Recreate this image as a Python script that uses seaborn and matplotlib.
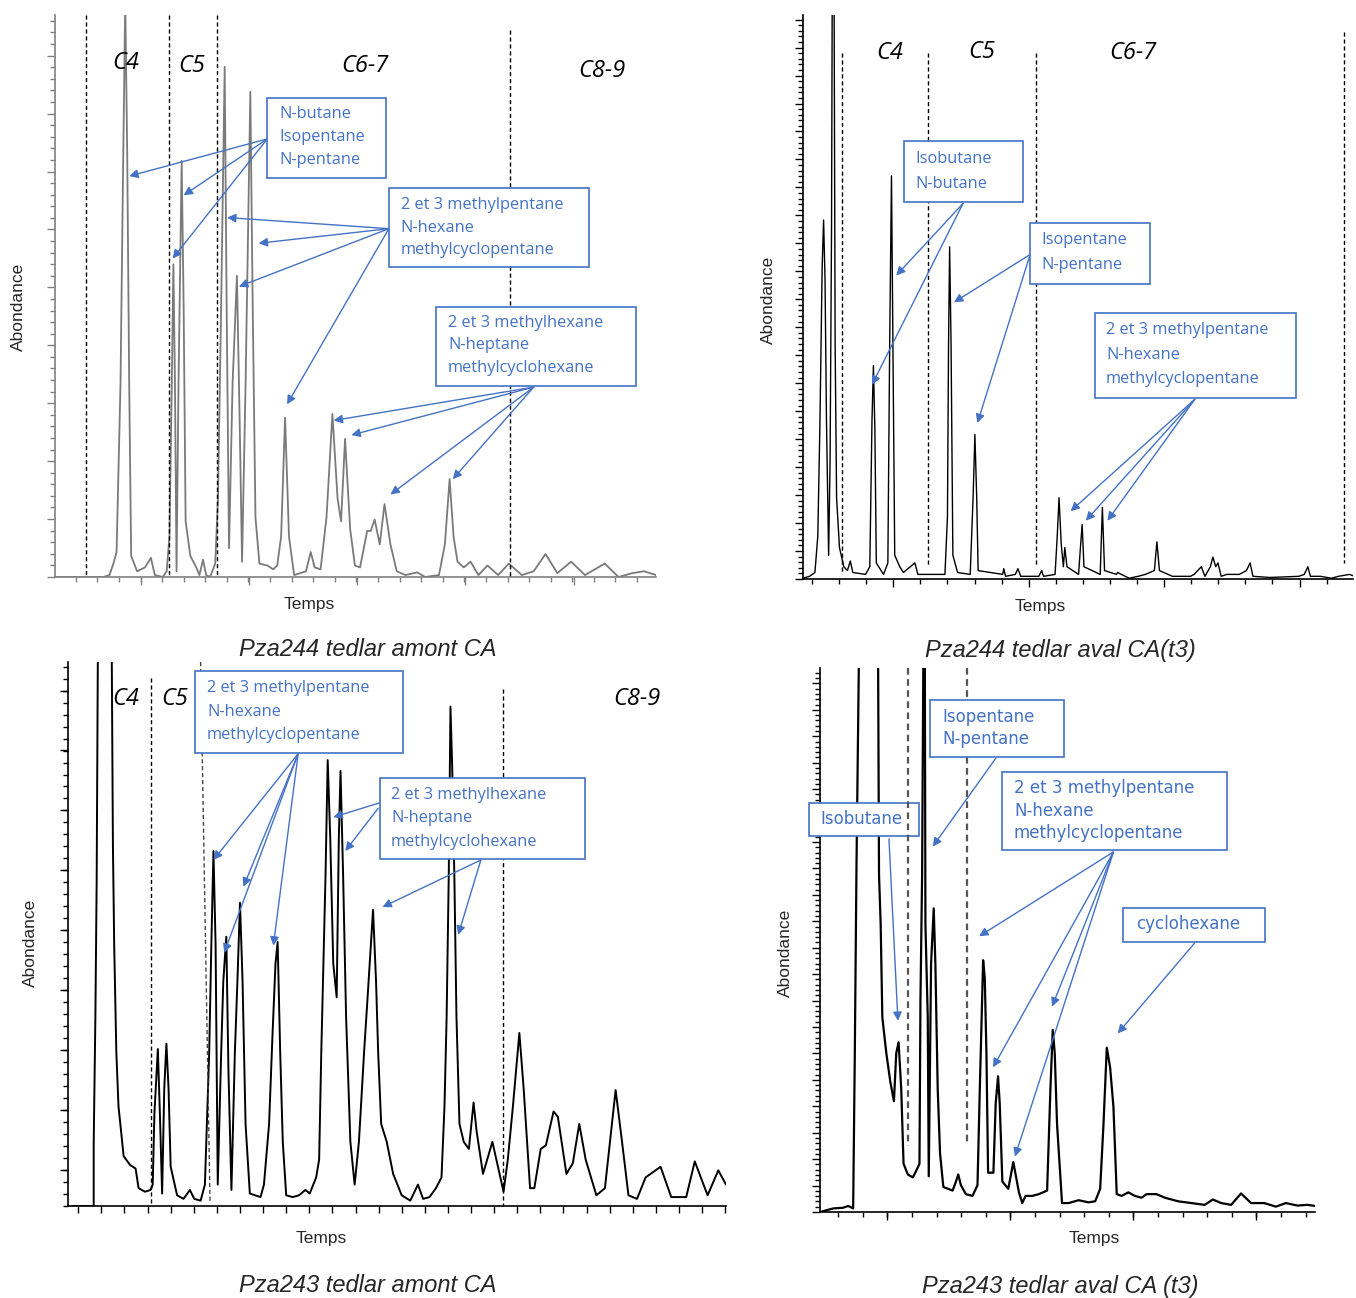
import matplotlib
matplotlib.use("Agg")
import matplotlib.pyplot as plt
from matplotlib.patches import Rectangle
from matplotlib.ticker import FixedLocator
import numpy as np
import pandas as pd
import seaborn as sns

# chromatogram traces (arbitrary units)
tl_time = [0, 123, 138, 148, 156, 166, 173, 178, 183, 188, 193, 208, 228, 243, 253, 273, 283, 290, 296, 300,
           304, 308, 313, 321, 326, 331, 343, 358, 366, 375, 383, 393, 406, 413, 421, 430, 435, 441, 450, 461,
           468, 474, 483, 495, 501, 508, 518, 538, 553, 563, 573, 583, 593, 606, 636, 648, 658, 673, 688, 703,
           716, 725, 735, 748, 760, 773, 791, 800, 810, 823, 835, 850, 866, 888, 918, 938, 973, 988, 1000, 1010,
           1020, 1036, 1053, 1073, 1096, 1123, 1150, 1183, 1213, 1243, 1273, 1308, 1343, 1393, 1428, 1463, 1493, 1523]
tl_abund = [0, 0, 5, 35, 65, 505, 1105, 1500, 1105, 505, 55, 15, 25, 50, 5, 0, 15, 105, 505, 815,
            505, 15, 505, 1085, 705, 145, 55, 25, 5, 45, 5, 0, 35, 205, 705, 1330, 705, 75, 505, 785,
            405, 40, 505, 1265, 705, 155, 35, 30, 20, 30, 105, 415, 105, 5, 15, 65, 25, 20, 155, 425,
            205, 145, 360, 125, 30, 25, 120, 120, 150, 85, 190, 85, 15, 5, 12, 0, 5, 85, 255, 105,
            40, 25, 40, 5, 30, 5, 35, 5, 15, 60, 10, 40, 5, 35, 0, 10, 15, 5]

tr_time = [0, 18, 33, 41, 47, 53, 57, 61, 65, 71, 75, 79, 81, 86, 89, 93, 101, 113, 123, 131,
           138, 173, 185, 191, 195, 199, 203, 223, 235, 240, 245, 249, 254, 268, 278, 310, 318, 393, 400, 403,
           406, 410, 415, 428, 463, 471, 476, 481, 485, 553, 556, 561, 588, 595, 603, 653, 661, 666, 698, 704,
           709, 715, 721, 725, 731, 763, 769, 773, 778, 823, 829, 835, 868, 871, 903, 928, 948, 973, 980, 987,
           1023, 1073, 1083, 1103, 1113, 1128, 1135, 1143, 1149, 1158, 1173, 1208, 1228, 1238, 1246, 1293, 1373, 1388, 1398, 1405,
           1433, 1463, 1483, 1513, 1528]
tr_abund = [2, 7, 17, 112, 412, 812, 937, 782, 412, 62, 312, 912, 1550, 1550, 612, 212, 82, 32, 22, 47,
            17, 12, 32, 412, 557, 392, 42, 12, 42, 612, 1052, 612, 62, 32, 17, 42, 12, 12, 162, 612,
            867, 612, 62, 17, 12, 212, 377, 212, 22, 12, 27, 7, 12, 27, 7, 7, 22, 7, 12, 112,
            212, 92, 32, 82, 32, 12, 92, 142, 32, 12, 187, 22, 12, 17, 2, 7, 12, 22, 97, 22,
            7, 7, 12, 32, 7, 32, 57, 32, 42, 7, 12, 12, 22, 42, 7, 4, 7, 12, 32, 7,
            7, 2, 7, 12, 7]

bl_time = [10, 60, 60, 64, 67, 70, 102, 105, 108, 113, 118, 130, 145, 158, 165, 180, 193, 198, 202, 210,
           215, 220, 225, 230, 235, 240, 255, 270, 285, 295, 310, 320, 330, 335, 340, 345, 350, 358, 363, 370,
           375, 382, 390, 396, 402, 408, 415, 425, 450, 458, 470, 478, 485, 490, 496, 502, 510, 525, 540, 555,
           565, 580, 587, 592, 598, 602, 607, 613, 620, 628, 633, 637, 643, 650, 660, 670, 680, 692, 700, 713,
           720, 725, 732, 745, 760, 780, 800, 818, 830, 845, 860, 873, 880, 885, 890, 894, 898, 903, 908, 915,
           925, 937, 948, 955, 970, 992, 1005, 1018, 1028, 1040, 1055, 1065, 1080, 1090, 1105, 1117, 1135, 1145, 1165, 1180,
           1195, 1210, 1235, 1255, 1280, 1295, 1310, 1330, 1350, 1385, 1410, 1445, 1465, 1495, 1520, 1538]
bl_abund = [0, 0, 170, 530, 910, 1600, 1600, 1010, 730, 430, 280, 140, 115, 105, 50, 40, 45, 60, 260, 440,
            250, 35, 330, 455, 330, 110, 30, 20, 45, 20, 15, 60, 430, 730, 995, 730, 60, 430, 630, 755,
            380, 45, 430, 630, 850, 630, 230, 35, 25, 60, 230, 480, 680, 740, 430, 180, 30, 25, 30, 45,
            35, 80, 130, 430, 730, 930, 1250, 1030, 680, 585, 1030, 1220, 930, 530, 180, 60, 180, 430, 580, 830,
            630, 430, 230, 180, 90, 30, 15, 60, 20, 25, 50, 80, 280, 530, 930, 1400, 1230, 930, 530, 230,
            180, 160, 290, 210, 90, 180, 110, 40, 130, 280, 485, 330, 50, 50, 160, 170, 265, 250, 90, 120,
            230, 130, 30, 50, 325, 180, 30, 20, 80, 110, 25, 25, 125, 30, 100, 60]

br_time = [0, 20, 40, 70, 85, 100, 105, 110, 118, 175, 178, 183, 188, 200, 212, 223, 230, 237, 245, 252,
           265, 280, 290, 300, 303, 308, 312, 316, 318, 325, 328, 335, 343, 348, 355, 362, 372, 400, 410, 417,
           425, 440, 460, 475, 482, 488, 492, 497, 502, 507, 523, 530, 537, 542, 550, 568, 576, 583, 590, 600,
           610, 620, 640, 660, 685, 695, 702, 708, 715, 730, 750, 780, 810, 830, 845, 855, 865, 875, 885, 895,
           910, 930, 950, 970, 985, 1015, 1040, 1080, 1120, 1160, 1185, 1210, 1240, 1270, 1300, 1340, 1375, 1405, 1440, 1470,
           1493]
br_abund = [0, 5, 10, 12, 17, 10, 445, 965, 1600, 1600, 945, 805, 545, 445, 365, 310, 445, 475, 345, 135,
            105, 97, 115, 135, 595, 945, 1600, 1600, 805, 545, 100, 695, 850, 695, 345, 165, 70, 60, 85, 105,
            75, 50, 45, 75, 345, 560, 705, 655, 445, 110, 110, 305, 380, 305, 85, 65, 105, 140, 105, 55,
            25, 45, 45, 50, 60, 345, 510, 445, 245, 25, 25, 33, 27, 30, 65, 245, 460, 405, 295, 50,
            45, 55, 45, 40, 50, 50, 40, 30, 25, 20, 35, 25, 20, 52, 25, 25, 15, 25, 18, 20,
            17]

captions = ["Pza244 tedlar amont CA", "Pza244 tedlar aval CA(t3)",
            "Pza243 tedlar amont CA", "Pza243 tedlar aval CA (t3)"]

BLUE = "#4472C4"
W, H = 1356, 1298

sns.set_theme(style="white")
plt.rcParams["font.family"] = ["Liberation Sans", "DejaVu Sans"]

fig = plt.figure(figsize=(W / 100, H / 100), dpi=100)


def add_ax(left, top, right, bottom):
    return fig.add_axes([left / W, 1 - bottom / H, (right - left) / W, (bottom - top) / H])


def trace(ax, t, a, color, lw):
    df = pd.DataFrame({"Temps": t, "Abondance": a})
    sns.lineplot(data=df, x="Temps", y="Abondance", ax=ax, sort=False, estimator=None,
                 color=color, lw=lw, zorder=2)
    ax.set_xlabel("")
    ax.set_ylabel("")


def style_ax(ax, xlim, ylim, xmaj, xmin, ymaj, ymin, color):
    ax.set_xlim(*xlim)
    ax.set_ylim(*ylim)
    ax.spines[["top", "right"]].set_visible(False)
    for s in ["left", "bottom"]:
        ax.spines[s].set_color(color)
        ax.spines[s].set_linewidth(1.2)
    ax.xaxis.set_major_locator(FixedLocator(xmaj))
    ax.xaxis.set_minor_locator(FixedLocator(xmin))
    ax.yaxis.set_major_locator(FixedLocator(ymaj))
    ax.yaxis.set_minor_locator(FixedLocator(ymin))
    ax.tick_params(which="both", direction="out", bottom=True, left=True,
                   labelbottom=False, labelleft=False, color=color, width=1)
    ax.tick_params(which="major", length=6)
    ax.tick_params(which="minor", length=3.5)
    ax.set_facecolor("none")


def vline(ax, t, a0, a1, t_end=None, color="black", lw=1, z=3):
    ax.plot([t, t if t_end is None else t_end], [a1, a0], ls=(0, (3, 2)), color=color, lw=lw, zorder=z)


def box(ax, t0, a0, t1, a1, lines, tx, ty, family, size):
    ax.add_patch(Rectangle((t0, a0), t1 - t0, a1 - a0, facecolor="white", edgecolor=BLUE,
                           lw=1.2, zorder=5, clip_on=False))
    for line, y in zip(lines, ty):
        ax.text(tx, y, line, color=BLUE, va="center", ha="left", zorder=6,
                family=family, fontsize=size)


def arrow(ax, src, tip):
    ax.annotate("", xy=tip, xytext=src, zorder=4, annotation_clip=False,
                arrowprops=dict(arrowstyle="-|>", color=BLUE, lw=1, mutation_scale=13,
                                shrinkA=0, shrinkB=0))


def region(ax, t, a, label):
    ax.text(t, a, label, ha="center", va="center", fontsize=17, style="italic",
            family="Open Sans", color="black", zorder=6)


MP = ["2 et 3 methylpentane", "N-hexane", "methylcyclopentane"]
MH = ["2 et 3 methylhexane", "N-heptane", "methylcyclohexane"]
CAL = "Open Sans"
CS = 11.8
VER = "DejaVu Sans"
VS = 12

# --- top left
ax = add_ax(55, 15, 656, 577)
trace(ax, tl_time, tl_abund, "#7a7a7a", 1.3)
style_ax(ax, (0, 1523), (0, 1465), np.arange(218, 1523, 274), np.arange(-2, 1523, 54.7),
         np.arange(0, 1465, 151), np.arange(0, 1465, 30.2), "#808080")
for t in [78, 288, 411]:
    vline(ax, t, 0, 1465)
vline(ax, 1153, 0, 1425)
for t, a, lab in [(178, 1340, "C4"), (346, 1333, "C5"), (785, 1333, "C6-7"), (1386, 1318, "C8-9")]:
    region(ax, t, a, lab)
box(ax, 538, 1040, 838, 1248, ["N-butane", "Isopentane", "N-pentane"], 568, [1207, 1147, 1087], CAL, CS)
box(ax, 846, 808, 1353, 1015, MP, 876, [970, 911, 853], CAL, CS)
box(ax, 966, 498, 1473, 705, MH, 996, [663, 604, 545], CAL, CS)
for tip in [(188, 1045), (326, 995), (298, 830)]:
    arrow(ax, (538, 1142), tip)
for tip in [(436, 937), (516, 870), (466, 757), (588, 450)]:
    arrow(ax, (846, 908), tip)
for tip in [(706, 408), (751, 370), (850, 215), (1008, 255)]:
    arrow(ax, (1213, 495), tip)

# --- top right
ax = add_ax(803, 15, 1353, 579)
trace(ax, tr_time, tr_abund, "black", 1.0)
style_ax(ax, (0, 1523), (0, 1472), np.arange(250, 1523, 375), np.arange(25, 1523, 75),
         np.arange(0, 1472, 73), np.arange(0, 1472, 14.6), "black")
vline(ax, 108, 12, 1372)
vline(ax, 346, 37, 1372)
vline(ax, 646, 37, 1372)
vline(ax, 1498, 42, 1427)
for t, a, lab in [(241, 1372, "C4"), (496, 1375, "C5"), (913, 1372, "C6-7")]:
    region(ax, t, a, lab)
box(ax, 280, 984, 610, 1142, ["Isobutane", "N-butane"], 310, [1097, 1032], CAL, CS)
box(ax, 629, 770, 960, 929, ["Isopentane", "N-pentane"], 660, [884, 820], CAL, CS)
box(ax, 809, 472, 1366, 694, MP, 839, [650, 585, 522], CAL, CS)
for tip in [(258, 792), (191, 507)]:
    arrow(ax, (443, 980), tip)
for tip in [(418, 722), (483, 407)]:
    arrow(ax, (629, 847), tip)
for tip in [(741, 177), (783, 152), (843, 152)]:
    arrow(ax, (1085, 469), tip)

# --- bottom left
ax = add_ax(68, 662, 726, 1206)
trace(ax, bl_time, bl_abund, "black", 1.4)
style_ax(ax, (0, 1538), (0, 1525), np.arange(24, 1538, 54), [],
         np.arange(101, 1525, 168), np.arange(0, 1525, 33.6), "black")
ax.tick_params(which="major", axis="x", length=5)
vline(ax, 193, 0, 1480)
vline(ax, 310, 10, 1525, t_end=332, color="#444444")
vline(ax, 1016, 0, 1450)
for t, a, lab in [(135, 1420, "C4"), (250, 1420, "C5"), (1330, 1420, "C8-9")]:
    region(ax, t, a, lab)
box(ax, 298, 1270, 782, 1500, MP, 325, [1452, 1385, 1320], CAL, CS)
box(ax, 730, 972, 1208, 1200, MH, 755, [1152, 1087, 1020], CAL, CS)
for tip in [(340, 970), (410, 895), (365, 710), (480, 730)]:
    arrow(ax, (538, 1268), tip)
arrow(ax, (728, 1130), (620, 1090))
arrow(ax, (725, 1115), (648, 995))
for tip in [(735, 838), (912, 760)]:
    arrow(ax, (965, 970), tip)

# --- bottom right
ax = add_ax(820, 668, 1315, 1212)
trace(ax, br_time, br_abund, "black", 1.6)
style_ax(ax, (0, 1493), (0, 1523), np.arange(202, 1493, 371), np.arange(55, 1493, 74.2),
         np.arange(0, 1523, 74), np.arange(0, 1523, 14.8), "black")
vline(ax, 265, 185, 1523, color="#555555", lw=1.6, z=7)
vline(ax, 443, 190, 1523, color="#555555", lw=1.6)
box(ax, 332, 1275, 737, 1433, ["Isopentane", "N-pentane"], 370, [1387, 1325], VER, VS)
box(ax, -33, 1052, 298, 1145, ["Isobutane"], 2, [1100], VER, VS)
box(ax, 550, 1013, 1228, 1232, MP, 585, [1187, 1123, 1060], VER, VS)
box(ax, 915, 755, 1343, 850, ["cyclohexane"], 953, [805], VER, VS)
arrow(ax, (208, 1045), (235, 535))
arrow(ax, (530, 1270), (340, 1023))
for tip in [(480, 772), (522, 405), (700, 575), (588, 155)]:
    arrow(ax, (885, 1008), tip)
arrow(ax, (1130, 753), (898, 500))

# --- axis labels and captions (figure pixels)
for x, y in [(18, 307), (768, 300), (30, 943), (785, 953)]:
    fig.text(x / W, 1 - y / H, "Abondance", rotation=90, ha="center", va="center", fontsize=12.5)
for x, y in [(309, 605), (1040, 607), (321, 1239), (1094, 1239)]:
    fig.text(x / W, 1 - y / H, "Temps", ha="center", va="center", fontsize=12.5)
for (x, y), cap in zip([(368, 650), (1060, 650), (368, 1285), (1060, 1286)], captions):
    fig.text(x / W, 1 - y / H, cap, ha="center", va="center", fontsize=17, style="italic")

fig.savefig("out.png", dpi=100, facecolor="white")
